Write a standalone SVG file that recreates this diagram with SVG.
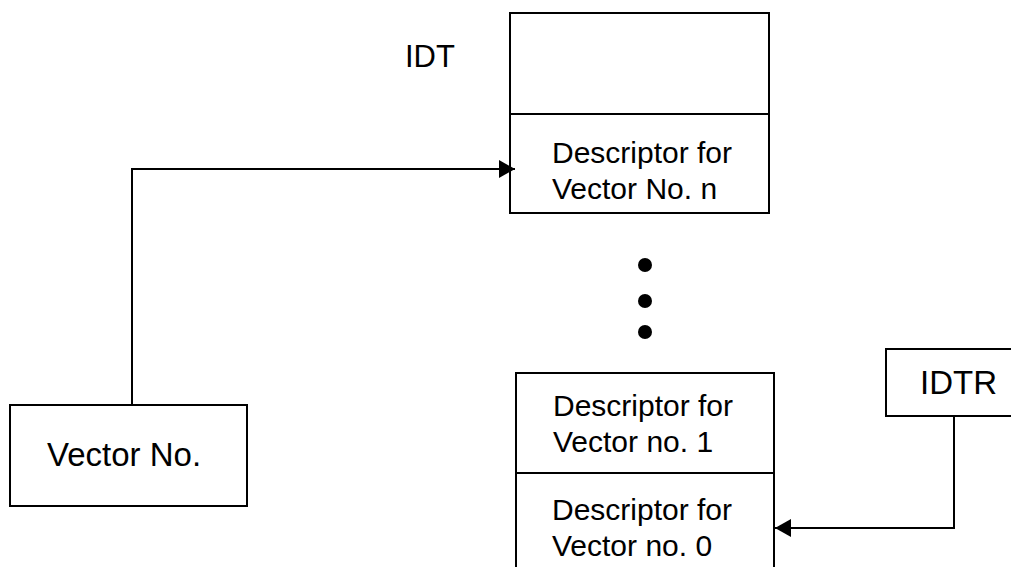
<svg xmlns="http://www.w3.org/2000/svg" width="1011" height="567" viewBox="0 0 1011 567">
  <style>
    .box { fill: #ffffff; stroke: #000000; stroke-width: 2; }
    .div { stroke: #000000; stroke-width: 2; }
    .wire { fill: none; stroke: #000000; stroke-width: 2; }
    .lbl { font-family: "Liberation Sans", Arial, sans-serif; fill: #000000; }
    .desc { font-size: 30px; }
    .big { font-size: 33px; }
  </style>
  <defs>
    <marker id="arrow" markerUnits="userSpaceOnUse" markerWidth="18" markerHeight="20" refX="16" refY="9" orient="auto">
      <path d="M0,0 L16,9 L0,18 z" fill="#000000"/>
    </marker>
  </defs>

  <!-- IDT table, upper entries -->
  <g id="idt-top">
    <text class="lbl" x="405" y="67" font-size="31">IDT</text>
    <rect class="box" x="510" y="13" width="259" height="200"/>
    <line class="div" x1="510" y1="114" x2="769" y2="114"/>
    <text class="lbl desc" x="552" y="163">Descriptor for</text>
    <text class="lbl desc" x="552" y="199">Vector No. n</text>
  </g>

  <!-- ellipsis between entries -->
  <g id="ellipsis">
    <circle cx="645" cy="265" r="7"/>
    <circle cx="645" cy="301" r="7"/>
    <circle cx="645" cy="332" r="7"/>
  </g>

  <!-- IDT table, lower entries -->
  <g id="idt-bottom">
    <rect class="box" x="516" y="373" width="258" height="210"/>
    <line class="div" x1="516" y1="473" x2="774" y2="473"/>
    <text class="lbl desc" x="553" y="416">Descriptor for</text>
    <text class="lbl desc" x="553" y="452">Vector no. 1</text>
    <text class="lbl desc" x="552" y="520">Descriptor for</text>
    <text class="lbl desc" x="552" y="556">Vector no. 0</text>
  </g>

  <!-- vector number input -->
  <g id="vector-no">
    <rect class="box" x="10" y="405" width="237" height="101"/>
    <text class="lbl big" x="47" y="466">Vector No.</text>
  </g>

  <!-- IDT register -->
  <g id="idtr">
    <rect class="box" x="886" y="349" width="135" height="67"/>
    <text class="lbl" x="920" y="394" font-size="33">IDTR</text>
  </g>

  <g id="connectors">
    <path class="wire" d="M132,405 V169 H515" marker-end="url(#arrow)"/>
    <path class="wire" d="M954,416 V528 H775" marker-end="url(#arrow)"/>
  </g>
</svg>
